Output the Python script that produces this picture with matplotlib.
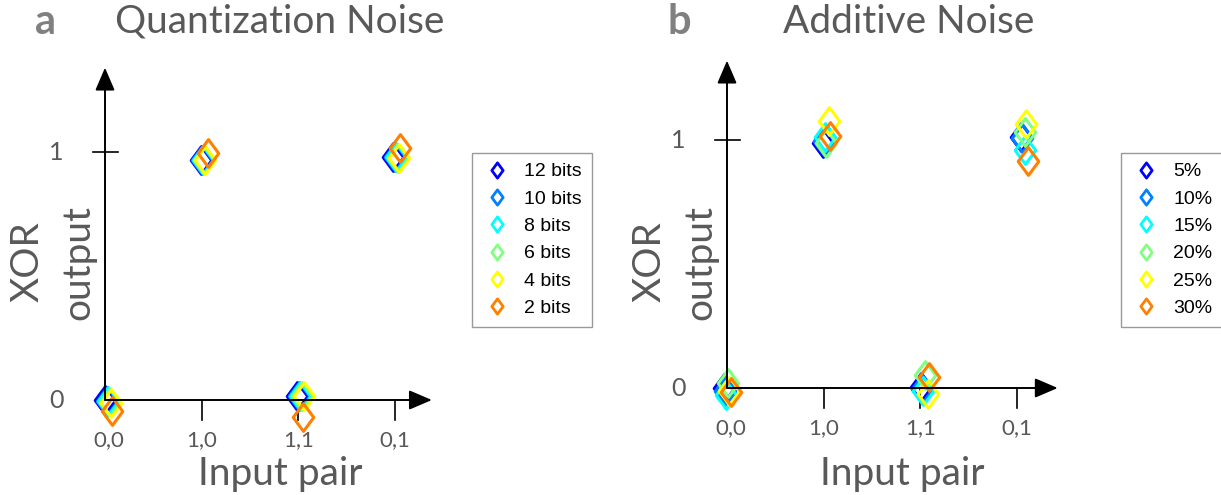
import matplotlib.pyplot as plt
from matplotlib.path import Path
from matplotlib.lines import Line2D

W, H = 1221, 495

pairs = ['0,0', '1,0', '1,1', '0,1']
colors = ['#0000ff', '#0080ff', '#00ffff', '#80ff80', '#ffff00', '#ff8000']

# quantization noise: x (input pair position + jitter), y (output)
quant_labels = ['12 bits', '10 bits', '8 bits', '6 bits', '4 bits', '2 bits']
quant_x = [
    [0.005, 0.993, 1.990, 2.978],
    [0.020, 1.005, 2.005, 2.995],
    [0.035, 1.015, 2.020, 3.010],
    [0.050, 1.027, 2.037, 3.028],
    [0.067, 1.039, 2.053, 3.045],
    [0.072, 1.065, 2.048, 3.050],
]
quant_y = [
    [0.000, 0.968, 0.016, 0.980],
    [-0.003, 0.968, 0.016, 0.979],
    [-0.006, 0.968, 0.016, 0.978],
    [-0.009, 0.968, 0.016, 0.977],
    [-0.012, 0.968, 0.016, 0.976],
    [-0.044, 0.996, -0.067, 1.018],
]

# additive noise
noise_labels = ['5%', '10%', '15%', '20%', '25%', '30%']
noise_x = [
    [-0.030, 0.993, 2.006, 3.040],
    [-0.020, 1.003, 2.017, 3.050],
    [-0.010, 1.013, 2.027, 3.082],
    [0.010, 1.024, 2.048, 3.082],
    [0.020, 1.055, 2.078, 3.092],
    [0.041, 1.065, 2.089, 3.113],
]
noise_y = [
    [0.000, 0.988, 0.004, 1.012],
    [-0.012, 0.996, -0.004, 1.008],
    [-0.028, 1.012, -0.012, 0.960],
    [0.022, 0.988, 0.052, 1.034],
    [-0.012, 1.077, -0.024, 1.066],
    [-0.015, 1.015, 0.046, 0.915],
]

diamond = Path([(0, 1), (0.74, 0), (0, -1), (-0.74, 0), (0, 1)], closed=True)

SX, SY = 96.7, 248.0
label_font = 'Lato'
gray = '#595959'

fig = plt.figure(figsize=(W / 100, H / 100), dpi=100)


def panel(x0, x1, ox, oy, xs, ys, labels, letter, title, title_x, letter_x,
          arrow_x, arrow_y, leg_x):
    ax = fig.add_axes([x0 / W, (H - 440) / H, (x1 - x0) / W, 390 / H])
    ax.set_xlim((x0 - ox) / SX, (x1 - ox) / SX)
    ax.set_ylim((oy - 440) / SY, (oy - 50) / SY)
    ax.axis('off')

    arrow = dict(arrowstyle='-|>,head_length=0.7,head_width=0.3', lw=1.4,
                 color='k', shrinkA=0, shrinkB=0, mutation_scale=20)
    ax.annotate('', xy=(arrow_x, 0), xytext=(0, 0), arrowprops=arrow)
    ax.annotate('', xy=(0, arrow_y), xytext=(0, 0), arrowprops=arrow)
    ax.plot([-0.12, 0.13], [1, 1], color='k', lw=1.2)
    for i in range(1, 4):
        ax.plot([i, i], [0, -0.08], color='k', lw=1.2)

    for i, p in enumerate(pairs):
        ax.text(i + (0.04 if i == 0 else 0), -0.16, p, ha='center', va='center',
                fontsize=16, color=gray, family=label_font)
    ax.text(-0.5, 1, '1', ha='center', va='center', fontsize=18,
            color=gray, family=label_font)
    ax.text(-0.5, 0, '0', ha='center', va='center', fontsize=18,
            color=gray, family=label_font)

    for k in range(len(labels)):
        ax.plot(xs[k], ys[k], ls='none', marker=diamond, ms=20, mfc='none',
                mec=colors[k], mew=2.2, clip_on=False)

    handles = [Line2D([], [], ls='none', marker=diamond, ms=11, mfc='none',
                      mec=c, mew=2.0) for c in colors]
    leg = ax.legend(handles, labels, loc='upper left',
                    bbox_to_anchor=(leg_x / W, 1 - 153 / H),
                    bbox_transform=fig.transFigure, frameon=True, fancybox=False,
                    edgecolor='#808080', borderaxespad=0, borderpad=0.5,
                    handlelength=1.6, handletextpad=0.6, labelspacing=0.5,
                    prop={'family': 'Liberation Sans', 'size': 14})
    leg.get_frame().set_linewidth(1.0)

    fig.text(letter_x / W, 1 - 22 / H, letter, ha='left', va='center',
             fontsize=30, fontweight='bold', color='#808080', family=label_font)
    fig.text(title_x / W, 1 - 22 / H, title, ha='left', va='center',
             fontsize=28, color=gray, family=label_font)
    fig.text((ox - 52) / W, 1 - 262 / H, 'XOR\noutput', ha='center', va='center',
             rotation=90, fontsize=28, color=gray, family=label_font,
             linespacing=1.5, multialignment='center')
    fig.text((ox + 175) / W, 1 - 474 / H, 'Input pair', ha='center', va='center',
             fontsize=28, color=gray, family=label_font)


panel(0, 470, 105, 400, quant_x, quant_y, quant_labels, 'a', 'Quantization Noise',
      115, 35, 3.38, 1.34, 472)
panel(620, 1100, 727, 388, noise_x, noise_y, noise_labels, 'b', 'Additive Noise',
      783, 667, 3.42, 1.32, 1121)

fig.savefig('out.png', dpi=100)
